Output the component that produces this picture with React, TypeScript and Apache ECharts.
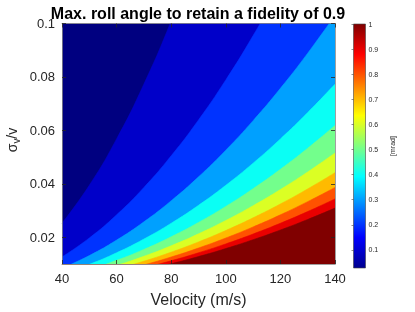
import React, { useEffect, useRef } from "react";
import * as echarts from "echarts";

// Velocity samples (m/s) at which contour boundaries were read
const velocity = [40, 50, 60, 70, 80, 90, 100, 110, 120, 130, 140];
// Contour levels [mrad]
const levels = [0.1, 0.2, 0.3, 0.4, 0.5, 0.6, 0.7, 0.8, 0.9, 1.0];
// sigma_v/v position of each contour boundary at each velocity
const contour01 = [0.02525, 0.03945, 0.05681, 0.07732, 0.10099, 0.12782, 0.1578, 0.19094, 0.22723, 0.26668, 0.30929];
const contour02 = [0.01263, 0.01973, 0.02841, 0.03866, 0.0505, 0.06391, 0.0789, 0.09547, 0.1136, 0.1333, 0.1546];
const contour03 = [0.008417, 0.01315, 0.01894, 0.02577, 0.03366, 0.04261, 0.0526, 0.06365, 0.07574, 0.08889, 0.1031];
const contour04 = [0.006313, 0.009863, 0.0142, 0.01933, 0.02525, 0.03196, 0.03945, 0.04774, 0.05681, 0.06667, 0.07732];
const contour05 = [0.00505, 0.00789, 0.01136, 0.01546, 0.0202, 0.02556, 0.03156, 0.03819, 0.04545, 0.05334, 0.06186];
const contour06 = [0.004208, 0.006575, 0.009468, 0.01289, 0.01683, 0.0213, 0.0263, 0.03182, 0.03787, 0.04445, 0.05155];
const contour07 = [0.003607, 0.005636, 0.008116, 0.01105, 0.01443, 0.01826, 0.02254, 0.02728, 0.03246, 0.0381, 0.04418];
const contour08 = [0.003156, 0.004931, 0.007101, 0.009665, 0.01262, 0.01598, 0.01973, 0.02387, 0.0284, 0.03334, 0.03866];
const contour09 = [0.002806, 0.004383, 0.006312, 0.008591, 0.01122, 0.0142, 0.01753, 0.02122, 0.02525, 0.02963, 0.03437];
const contour10 = [0.002525, 0.003945, 0.005681, 0.007732, 0.0101, 0.01278, 0.01578, 0.01909, 0.02272, 0.02667, 0.03093];
const contours = [contour01, contour02, contour03, contour04, contour05, contour06, contour07, contour08, contour09, contour10];

const xTicks = [40, 60, 80, 100, 120, 140];
const yTicks = [0.02, 0.04, 0.06, 0.08, 0.1];
const cbTicks = [0.1, 0.2, 0.3, 0.4, 0.5, 0.6, 0.7, 0.8, 0.9, 1];

const bandColors = ["#000080", "#0000C9", "#0033FF", "#00A0FF", "#0AFFF5", "#73FF8C", "#DBFF24", "#FFBA00", "#FF5200", "#E80000", "#800000"];

const fmt = (v: number) => String(+(+v).toFixed(3));
const FONT = "Liberation Sans, Arial, sans-serif";

export default function App() {
  const ref = useRef<HTMLDivElement>(null);
  useEffect(() => {
    if (!ref.current) return;
    const chart = echarts.init(ref.current, null, { renderer: "svg" });
    const axisColor = "#262626";
    const tickLabel = { fontSize: 13, color: axisColor, fontFamily: FONT };
    const jet = new echarts.graphic.LinearGradient(0, 0, 0, 1, [
      { offset: 0, color: "#800000" },
      { offset: 0.125, color: "#FF0000" },
      { offset: 0.375, color: "#FFFF00" },
      { offset: 0.625, color: "#00FFFF" },
      { offset: 0.875, color: "#0000FF" },
      { offset: 1, color: "#00008F" },
    ]);
    const series: any[] = levels.map((L, i) => ({
      type: "line",
      name: String(L),
      xAxisIndex: 0,
      yAxisIndex: 0,
      data: velocity.map((v, j) => [v, contours[i][j]]),
      smooth: true,
      symbol: "none",
      clip: true,
      silent: true,
      z: 2 + i,
      lineStyle: { width: 0.6, color: bandColors[i + 1] },
      areaStyle: { color: bandColors[i + 1], opacity: 1, origin: "start" },
    }));
    const mainTick = { show: true, inside: true, length: 4, lineStyle: { color: axisColor, width: 0.8 } };
    chart.setOption({
      animation: false,
      grid: [
        { left: 62, right: 80, top: 23.5, bottom: 42.5, show: true, backgroundColor: bandColors[0], borderWidth: 0 },
        { left: 353.5, top: 24, width: 12, height: 244, show: true, backgroundColor: jet, borderWidth: 0.6, borderColor: "#444" },
      ],
      xAxis: [
        {
          type: "value", gridIndex: 0, min: 40, max: 140, interval: 20, position: "bottom",
          axisLine: { show: true, lineStyle: { color: "#888", width: 0.8 } },
          axisTick: { ...mainTick, customValues: xTicks },
          axisLabel: { ...tickLabel, margin: 8, customValues: xTicks },
          splitLine: { show: false },
          name: "Velocity (m/s)", nameLocation: "middle", nameGap: 27,
          nameTextStyle: { fontSize: 16, color: axisColor, fontFamily: FONT },
          z: 20,
        },
        {
          type: "value", gridIndex: 0, min: 40, max: 140, interval: 20, position: "top",
          axisLine: { show: true, lineStyle: { color: "#888", width: 0.8 } },
          axisTick: { ...mainTick, customValues: xTicks },
          axisLabel: { show: false },
          splitLine: { show: false },
          z: 20,
        },
        { type: "value", gridIndex: 1, min: 0, max: 1, show: false },
      ],
      yAxis: [
        {
          type: "value", gridIndex: 0, min: 0.01, max: 0.1, position: "left",
          axisLine: { show: true, lineStyle: { color: "#888", width: 0.8 } },
          axisTick: { ...mainTick, customValues: yTicks },
          axisLabel: { ...tickLabel, margin: 7, customValues: yTicks, formatter: fmt },
          splitLine: { show: false },
          z: 20,
        },
        {
          type: "value", gridIndex: 0, min: 0.01, max: 0.1, position: "right",
          axisLine: { show: true, lineStyle: { color: "#888", width: 0.8 } },
          axisTick: { ...mainTick, customValues: yTicks },
          axisLabel: { show: false },
          splitLine: { show: false },
          z: 20,
        },
        {
          type: "value", gridIndex: 1, min: 0.028, max: 1, position: "right",
          axisLine: { show: false },
          axisTick: { show: true, inside: true, length: 2, customValues: cbTicks, lineStyle: { color: "#444", width: 0.6 } },
          axisLabel: { fontSize: 7, color: axisColor, margin: 3, customValues: cbTicks, formatter: fmt, fontFamily: FONT },
          splitLine: { show: false },
          name: "[mrad]", nameLocation: "middle", nameRotate: 90, nameGap: 23,
          nameTextStyle: { fontSize: 7, color: axisColor, fontFamily: FONT },
        },
      ],
      graphic: [
        {
          type: "text", x: 198, y: 13, z: 50,
          style: {
            text: "Max. roll angle to retain a fidelity of 0.9",
            fontSize: 16, fontWeight: "bold", fill: "#000",
            align: "center", verticalAlign: "middle",
            fontFamily: FONT,
          },
        },
        {
          type: "text", x: 12, y: 140, rotation: Math.PI / 2, z: 50,
          style: {
            text: "{a|σ}{b|v}{a|/v}",
            align: "center", verticalAlign: "middle",
            fill: axisColor,
            rich: {
              a: { fontSize: 14, fill: axisColor, fontFamily: FONT, lineHeight: 19, verticalAlign: "middle" },
              b: { fontSize: 10, fill: axisColor, fontFamily: FONT, lineHeight: 19, verticalAlign: "bottom" },
            },
          },
        },
      ],
      series,
    });
    return () => chart.dispose();
  }, []);
  return <div ref={ref} style={{ position: "fixed", left: 0, top: 0, width: 415, height: 312 }} />;
}
